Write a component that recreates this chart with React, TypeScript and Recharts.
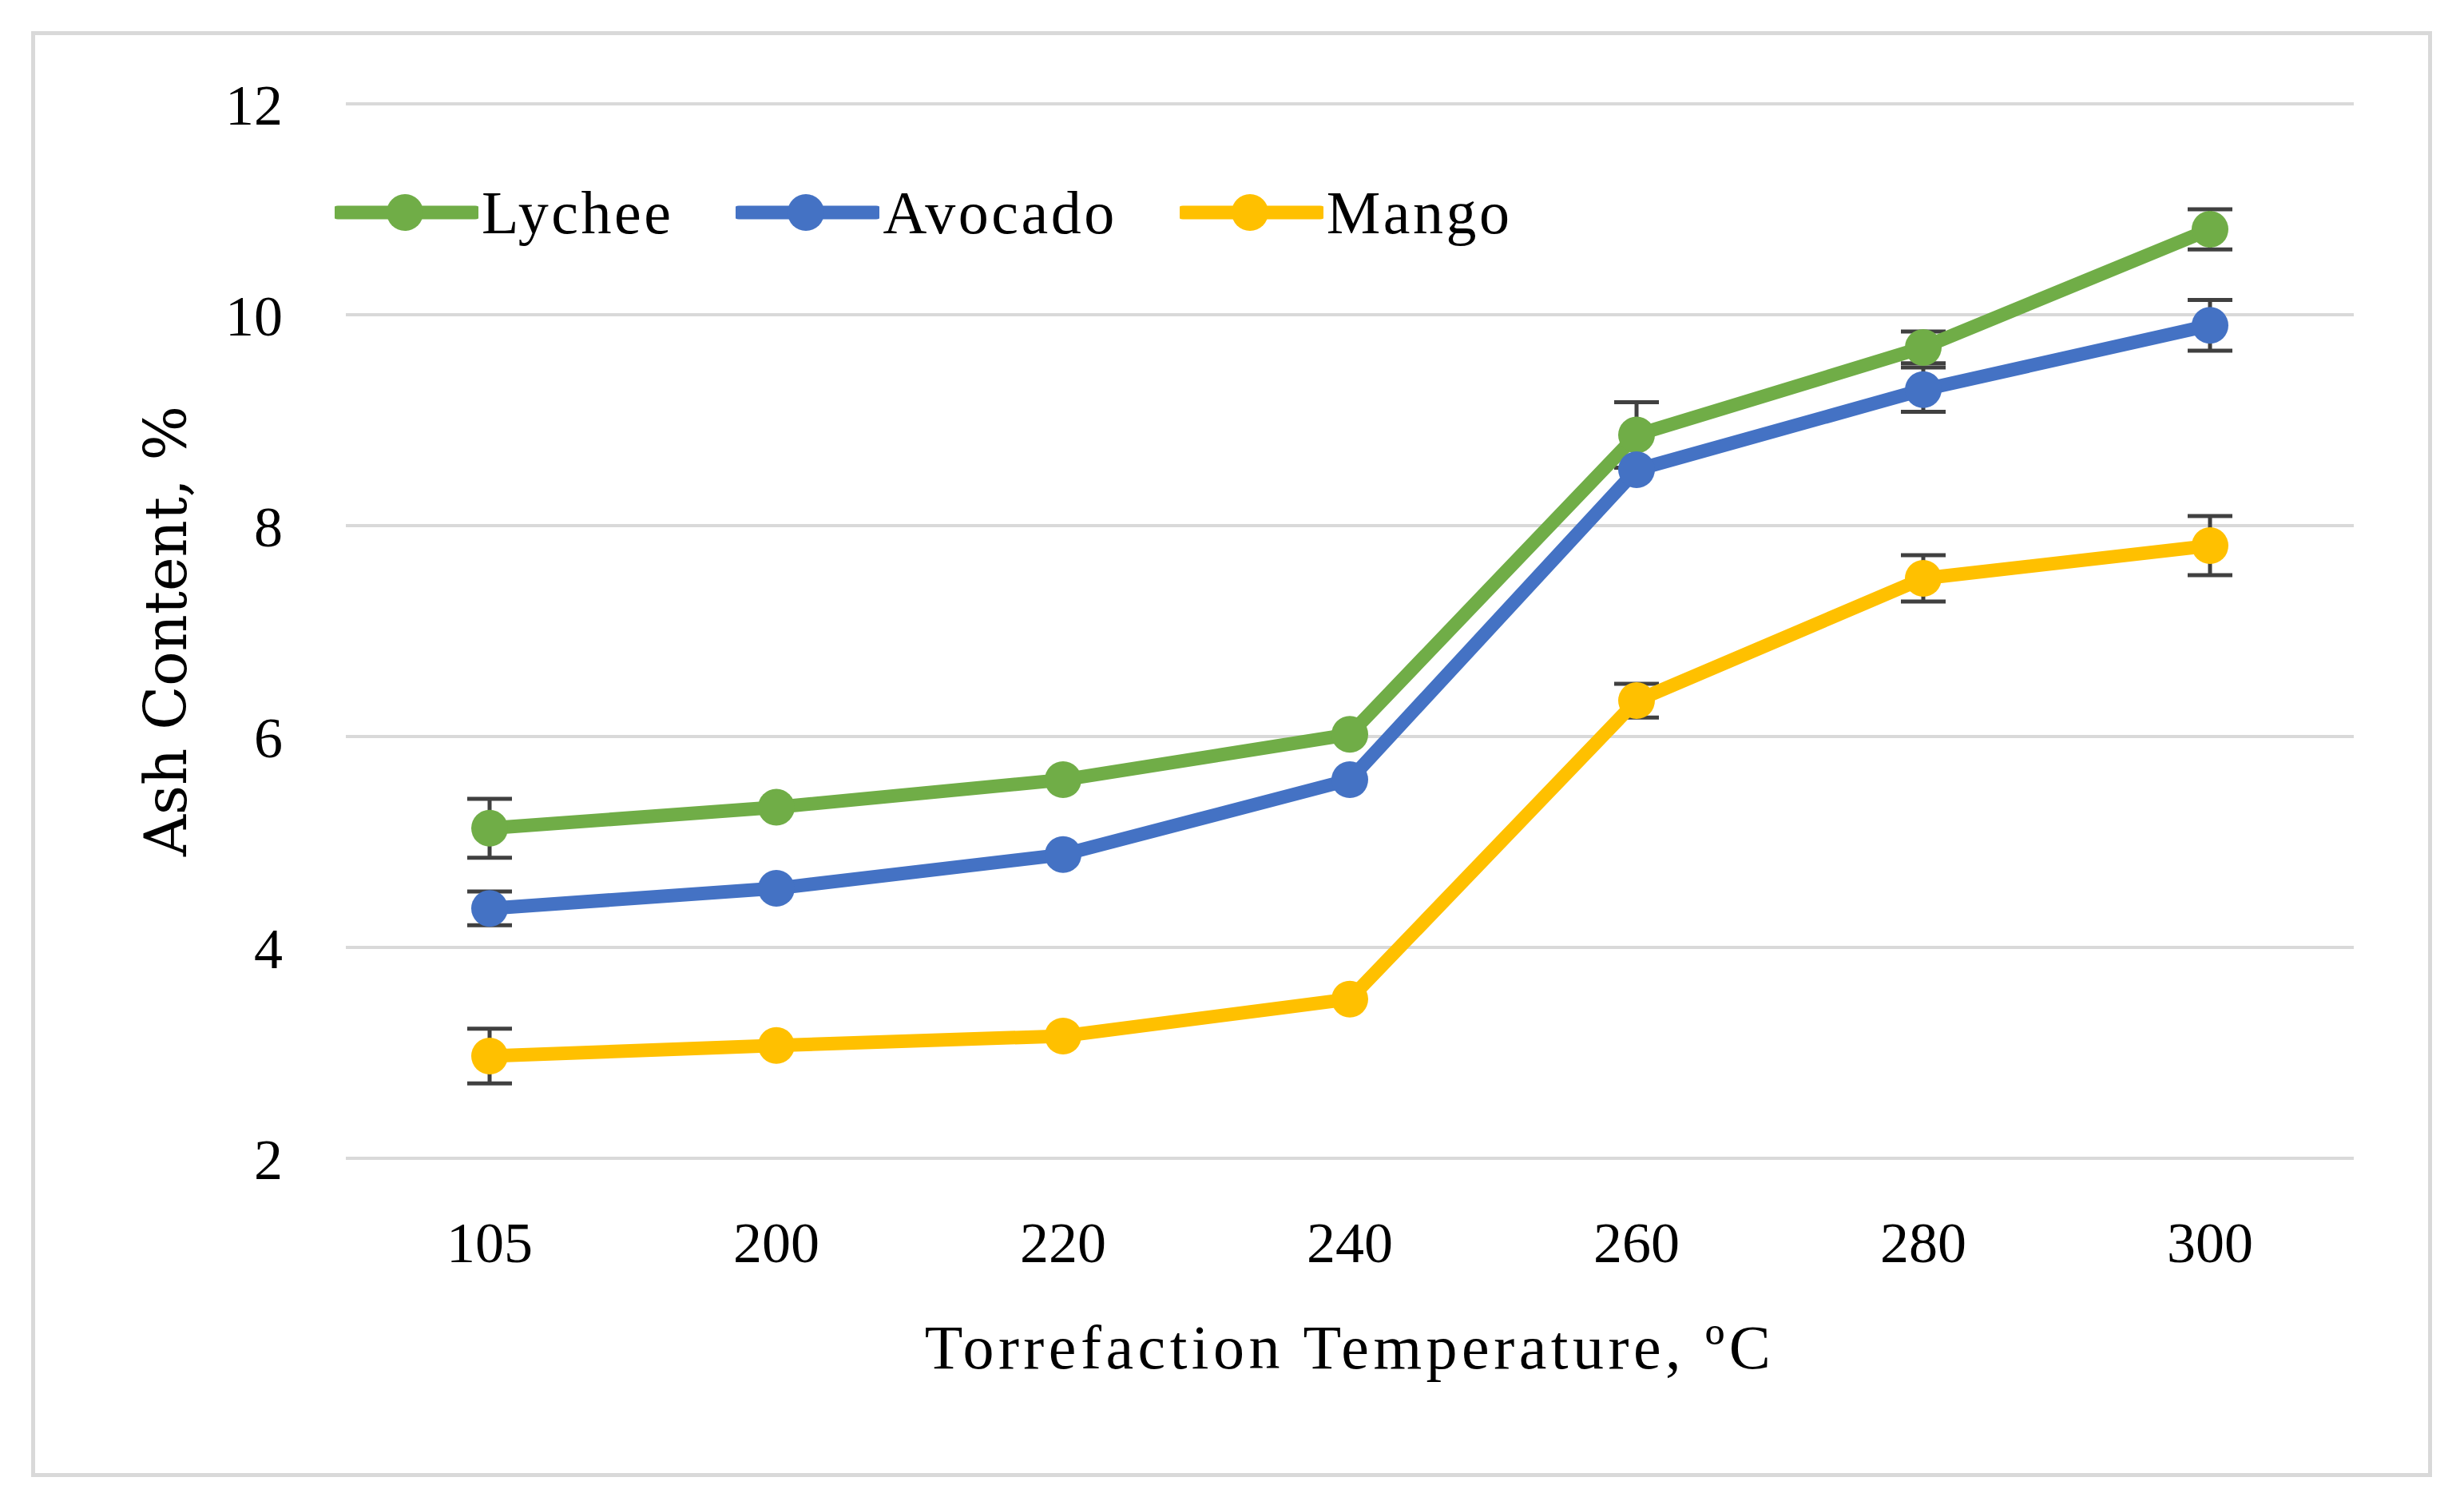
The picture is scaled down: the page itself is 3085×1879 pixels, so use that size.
import { LineChart, Line, XAxis, YAxis, CartesianGrid, ErrorBar, Legend } from "recharts";

const categories = ["105", "200", "220", "240", "260", "280", "300"];
const lychee = [5.13, 5.33, 5.59, 6.02, 8.86, 9.69, 10.81];
const avocado = [4.37, 4.56, 4.88, 5.59, 8.53, 9.29, 9.9];
const mango = [2.97, 3.07, 3.16, 3.51, 6.34, 7.5, 7.81];
// error bars hidden under the markers in the source are left out (null)
const lycheeErr = [0.28, null, null, null, 0.31, 0.15, 0.19];
const avocadoErr = [0.16, null, null, null, null, 0.21, 0.24];
const mangoErr = [0.26, null, null, null, 0.16, 0.22, 0.28];
const yTicks = [2, 4, 6, 8, 10, 12];

const series = [
  { key: "lychee", name: "Lychee", color: "#70AD47" },
  { key: "avocado", name: "Avocado", color: "#4472C4" },
  { key: "mango", name: "Mango", color: "#FFC000" },
];

const data = categories.map((c, i) => ({
  temp: c,
  lychee: lychee[i],
  lycheeErr: lycheeErr[i],
  avocado: avocado[i],
  avocadoErr: avocadoErr[i],
  mango: mango[i],
  mangoErr: mangoErr[i],
}));

const serif = '"Liberation Serif", "Times New Roman", serif';

// legend is drawn from the series list so the order stays Lychee, Avocado, Mango
function renderLegend() {
  return (
    <div style={{ display: "flex", alignItems: "center", gap: 78 }}>
      {series.map((s) => (
        <div key={s.key} style={{ display: "flex", alignItems: "center" }}>
          <svg width={180} height={50} style={{ display: "block" }}>
            <line x1={4} y1={25} x2={176} y2={25} stroke={s.color} strokeWidth={17} strokeLinecap="round" />
            <circle cx={88} cy={25} r={23} fill={s.color} />
          </svg>
          <span style={{ fontFamily: serif, fontSize: 76, color: "#000", marginLeft: 4, letterSpacing: 3.5, lineHeight: 1 }}>
            {s.name}
          </span>
        </div>
      ))}
    </div>
  );
}

export default function App() {
  return (
    <div style={{ position: "absolute", left: 0, top: 0, width: 3085, height: 1879, background: "#fff" }}>
      <div
        style={{
          position: "absolute",
          left: 39,
          top: 39,
          width: 3006,
          height: 1810,
          border: "5px solid #d9d9d9",
          boxSizing: "border-box",
        }}
      />
      <div style={{ position: "absolute", left: 0, top: 0 }}>
        <LineChart width={3085} height={1879} data={data} margin={{ top: 130, right: 138, bottom: 221, left: 133 }}>
          <CartesianGrid vertical={false} stroke="#d9d9d9" strokeWidth={4} />
          <XAxis
            dataKey="temp"
            height={208}
            padding={{ left: 180, right: 180 }}
            axisLine={false}
            tickLine={false}
            tickSize={0}
            tickMargin={79}
            tick={{ fontFamily: serif, fontSize: 72, fill: "#000" }}
            label={{
              value: "Torrefaction Temperature, ºC",
              position: "bottom",
              offset: 0,
              style: { fontFamily: serif, fontSize: 78, fill: "#000", letterSpacing: 5.5 },
            }}
          />
          <YAxis
            width={300}
            domain={[2, 12]}
            ticks={yTicks}
            axisLine={false}
            tickLine={false}
            tickSize={0}
            tickMargin={79}
            tick={{ fontFamily: serif, fontSize: 72, fill: "#000" }}
            label={{
              value: "Ash Content, %",
              angle: -90,
              position: "insideLeft",
              offset: 74,
              style: { fontFamily: '"DejaVu Serif", serif', fontSize: 72, fill: "#000", textAnchor: "middle" },
            }}
          />
          <Legend
            layout="horizontal"
            verticalAlign="middle"
            align="center"
            content={renderLegend}
            wrapperStyle={{ position: "absolute", left: 419, top: 228, width: "auto", height: "auto" }}
          />
          {series.map((s) => (
            <Line
              key={s.key}
              type="linear"
              dataKey={s.key}
              name={s.name}
              stroke={s.color}
              strokeWidth={17}
              strokeLinejoin="round"
              dot={{ r: 23, fill: s.color, stroke: s.color, strokeWidth: 0 }}
              activeDot={false}
              isAnimationActive={false}
            >
              <ErrorBar
                dataKey={s.key + "Err"}
                direction="y"
                width={28}
                stroke="#404040"
                strokeWidth={5}
                isAnimationActive={false}
              />
            </Line>
          ))}
        </LineChart>
      </div>
    </div>
  );
}
